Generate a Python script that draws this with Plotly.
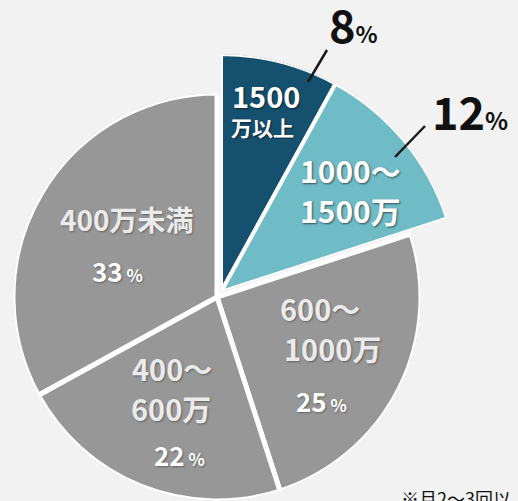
import math
import plotly.graph_objects as go

# ---- data ----
categories = ["1500万以上", "1000～1500万", "600～1000万", "400～600万", "400万未満"]
shares = [8, 12, 25, 22, 33]
colors = ["#15506e", "#6fbbc6", "#979797", "#979797", "#979797"]
exploded = [True, True, False, False, False]
label_lines = [["1500", "万以上"], ["1000～", "1500万"], ["600～", "1000万"], ["400～", "600万"], ["400万未満"]]
pct_labels = ["8", "12", "25", "22", "33"]

W, H = 518, 501
FONT = "Noto Sans CJK JP"


def px(x, y):
    return x / W, 1 - y / H


# slice angles from cumulative shares (clockwise from 12 o'clock)
total = sum(shares)
starts, acc = [], 0
for s in shares:
    starts.append(acc)
    acc += s
theta = [(st + s / 2) / total * 360 for st, s in zip(starts, shares)]
width = [s / total * 360 for s in shares]

fig = go.Figure()

gi = [i for i in range(len(shares)) if not exploded[i]]
ei = [i for i in range(len(shares)) if exploded[i]]

fig.add_trace(go.Barpolar(
    r=[1 for i in gi], theta=[theta[i] for i in gi], width=[width[i] for i in gi],
    marker=dict(color=[colors[i] for i in gi], line=dict(color="white", width=5)),
    text=[categories[i] for i in gi], hoverinfo="skip", subplot="polar", showlegend=False))

fig.add_trace(go.Barpolar(
    r=[1 for i in ei], theta=[theta[i] for i in ei], width=[width[i] for i in ei],
    marker=dict(color=[colors[i] for i in ei], line=dict(color="white", width=4)),
    text=[categories[i] for i in ei], hoverinfo="skip", subplot="polar2", showlegend=False))

# gray pie: centre (217,297), radius 204 px
gx0, gx1 = 217 - 204, 217 + 204
gy0, gy1 = 297 - 204, 297 + 204
# exploded pie: centre (221,292), radius 238 px, sector 18..90 deg
R2, cx2, cy2 = 238, 221, 292
ex1 = cx2 + R2 * math.cos(math.radians(18))

axis_common = dict(
    bgcolor="rgba(0,0,0,0)",
    angularaxis=dict(visible=False, direction="clockwise", rotation=90),
    radialaxis=dict(visible=False, range=[0, 1]),
    bargap=0,
)

fig.update_layout(
    width=W, height=H,
    margin=dict(l=0, r=0, t=0, b=0),
    paper_bgcolor="#f2f2f2", plot_bgcolor="#f2f2f2",
    polar=dict(domain=dict(x=[gx0 / W, gx1 / W], y=[1 - gy1 / H, 1 - gy0 / H]), **axis_common),
    polar2=dict(domain=dict(x=[cx2 / W, ex1 / W], y=[1 - cy2 / H, 1 - (cy2 - R2) / H]),
                sector=[18, 90], **axis_common),
)

shadow_dark = "1px 1px 2px rgba(0,0,0,0.55)"
shadow_gray = "1px 1px 2px rgba(0,0,0,0.35)"


def ann(text, x, y, size, color="white", shadow="none", xanchor="center", yanchor="middle",
        weight="bold", height=None):
    X, Y = px(x, y)
    fig.add_annotation(text=text, x=X, y=Y, xref="paper", yref="paper", showarrow=False,
                       xanchor=xanchor, yanchor=yanchor, height=height,
                       font=dict(family=FONT, size=size, color=color, weight=weight, shadow=shadow))


# labels inside the slices
ann(label_lines[0][0], 266, 95, 29, shadow=shadow_dark, height=30)
ann(label_lines[0][1], 262, 127, 21, shadow=shadow_dark, height=24)
ann(label_lines[1][0], 350, 170, 30, shadow=shadow_dark)
ann(label_lines[1][1], 350, 210, 30, shadow=shadow_dark)

gcol = "#ebebeb"
ann(label_lines[2][0], 320, 308, 29, color=gcol, shadow=shadow_gray)
ann(label_lines[2][1], 332, 348, 29, color=gcol, shadow=shadow_gray)
ann(pct_labels[2] + "<span style='font-size:17px'> %</span>", 321, 400, 26, color="white", shadow=shadow_gray)

ann(label_lines[3][0], 172, 368, 29, color=gcol, shadow=shadow_gray)
ann(label_lines[3][1], 171, 408, 29, color=gcol, shadow=shadow_gray)
ann(pct_labels[3] + "<span style='font-size:17px'> %</span>", 179, 454, 26, color="white", shadow=shadow_gray)

ann(label_lines[4][0], 127, 219, 28, color=gcol, shadow=shadow_gray)
ann(pct_labels[4] + "<span style='font-size:17px'> %</span>", 117, 270, 26, color="white", shadow=shadow_gray)

# big percentages outside
ann(pct_labels[0] + "<span style='font-size:23px'>%</span>", 353, 23, 45, color="#111111", height=46)
ann(pct_labels[1] + "<span style='font-size:24px'>%</span>", 470, 110, 45, color="#111111", height=46)

# leader lines
for (x0, y0), (x1, y1) in [((308, 82), (327, 50)), ((395, 157), (425, 126))]:
    a0, b0 = px(x0, y0)
    a1, b1 = px(x1, y1)
    fig.add_shape(type="line", xref="paper", yref="paper", x0=a0, y0=b0, x1=a1, y1=b1,
                  line=dict(color="#1a1a1a", width=2.5))

# footnote (cropped at the edge)
ann("※月2～3回以上の利用", 399, 483, 18, color="#111111", xanchor="left", yanchor="top", weight="normal")

fig.write_html("out.html", config={"displayModeBar": False},
               post_script="document.body.style.margin='0';document.body.style.background='#f2f2f2';")
